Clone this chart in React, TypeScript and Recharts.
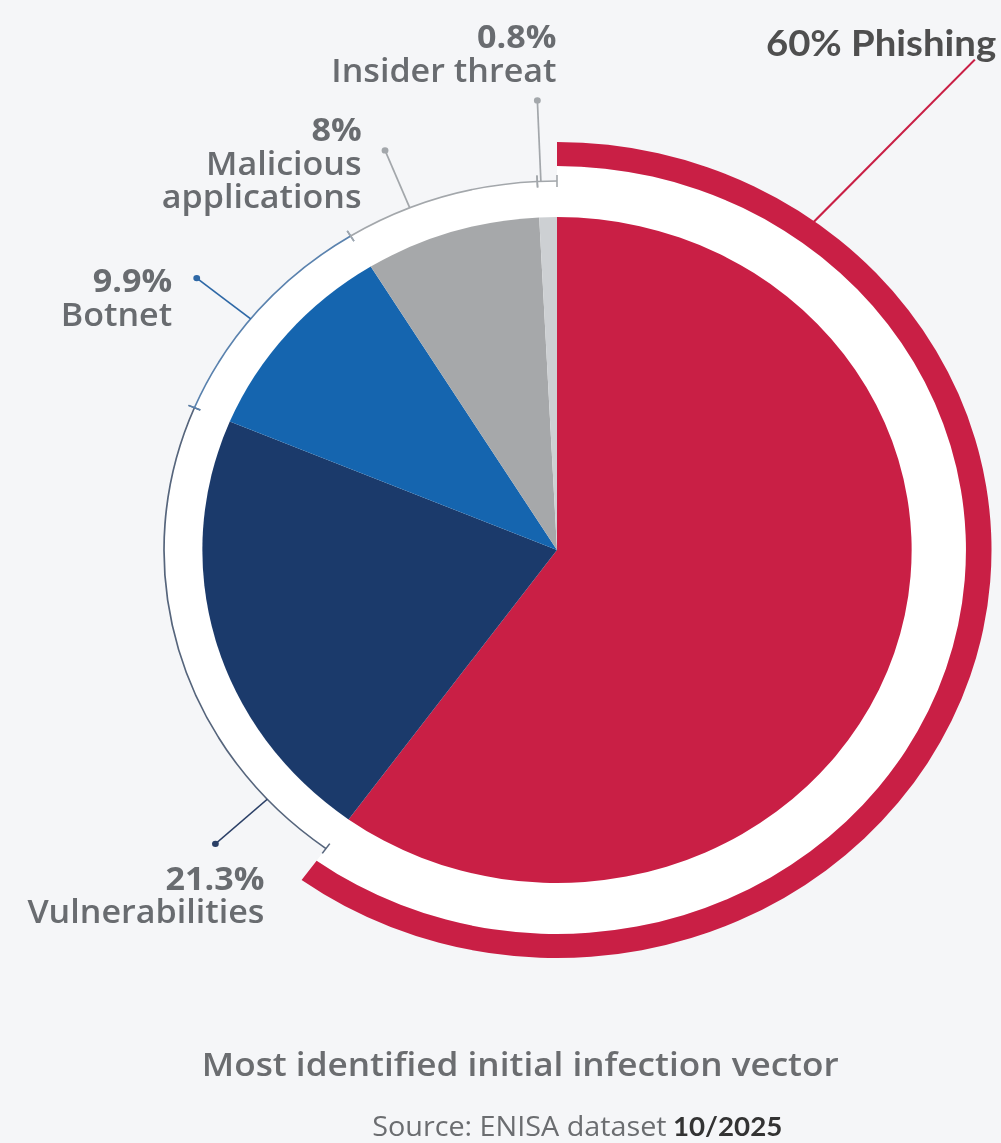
import { PieChart, Pie, Cell } from 'recharts';

// Initial infection vectors (share of incidents, %)
const categories = ['Phishing', 'Vulnerabilities', 'Botnet', 'Malicious applications', 'Insider threat'];
const shares = [60, 21.3, 9.9, 8, 0.8];
const shareLabels = ['60%', '21.3%', '9.9%', '8%', '0.8%'];
const nameLines = [['Phishing'], ['Vulnerabilities'], ['Botnet'], ['Malicious', 'applications'], ['Insider threat']];

const title = 'Most identified initial infection vector';
const source = 'Source: ENISA dataset';
const sourceDate = '10/2025';

const sliceColors = ['#C91F45', '#1B3A6B', '#1565AF', '#A6A8AA', '#CDD0D3'];
const ringColors = ['#C91F45', '#56657C', '#5A82AE', '#A3A7AB', '#A3A7AB'];
const leaderColors = ['#C91F45', '#2A3F66', '#2E68A6', '#A3A7AB', '#A3A7AB'];

const data = categories.map((name, i) => ({ name, value: shares[i] }));

// the source picture is a little wider than tall
const STRETCH = 1.065;
const CX = 557;
const CY = 550;
const R_PIE = 333;
const R_THIN = 369;
const R_BAND_IN = 384;
const R_BAND_OUT = 408;
const LINE = 33.5;
const TEXT = '#696C70';
const FONT = '"Open Sans", sans-serif';

// where each callout leaves its ring (fraction along the slice), how far it reaches, text offset from the dot
const callouts = [
  { t0: 0.168, t1: 0.179, r1: 628, dx: 20, dy: -4 },
  { t0: 0.15, t1: 0.15, r1: 435, dx: 46, dy: 46 },
  { t0: 0.452, t1: 0.452, r1: 434, dx: -23, dy: 14 },
  { t0: 0.336, t1: 0.336, r1: 431, dx: -22, dy: -9 },
  { t0: 0.184, t1: 0.184, r1: 450, dx: 18, dy: -52 },
];

const RAD = Math.PI / 180;
const polar = (cx: number, cy: number, r: number, a: number) => ({
  x: cx + r * Math.cos(-a * RAD),
  y: cy + r * Math.sin(-a * RAD),
});

const renderPhishing = (props: any) => {
  const { cx, cy, startAngle, endAngle, index } = props;
  if (index !== 0) return null;
  const c = callouts[0];
  const a0 = startAngle + c.t0 * (endAngle - startAngle);
  const a1 = startAngle + c.t1 * (endAngle - startAngle);
  const p0 = polar(cx, cy, R_BAND_OUT - 2, a0);
  const p1 = polar(cx, cy, c.r1, a1);
  return (
    <g>
      <line x1={p0.x} y1={p0.y} x2={p1.x} y2={p1.y} stroke={leaderColors[0]} strokeWidth={2} />
      <text
        x={p1.x + c.dx}
        y={p1.y + c.dy}
        textAnchor="end"
        fill="#4F4F4F"
        fontFamily="Lato, sans-serif"
        fontWeight={700}
        fontSize={36}
      >
        {`${shareLabels[0]} ${nameLines[0][0]}`}
      </text>
    </g>
  );
};

const renderThinRing = (props: any) => {
  const { cx, cy, startAngle, endAngle, index } = props;
  if (index === 0) return null;
  const c = callouts[index];
  const color = ringColors[index];
  const s = polar(cx, cy, R_THIN, startAngle);
  const e = polar(cx, cy, R_THIN, endAngle);
  const large = Math.abs(endAngle - startAngle) > 180 ? 1 : 0;
  const tick = (a: number) => {
    const i = polar(cx, cy, R_THIN - 6, a);
    const o = polar(cx, cy, R_THIN + 6, a);
    return <line x1={i.x} y1={i.y} x2={o.x} y2={o.y} stroke={color} strokeWidth={1.5} />;
  };
  const a = startAngle + c.t0 * (endAngle - startAngle);
  const p0 = polar(cx, cy, R_THIN, a);
  const p1 = polar(cx, cy, c.r1, startAngle + c.t1 * (endAngle - startAngle));
  const tx = p1.x + c.dx;
  const ty = p1.y + c.dy;
  return (
    <g>
      <path
        d={`M${s.x},${s.y} A${R_THIN},${R_THIN} 0 ${large} 1 ${e.x},${e.y}`}
        fill="none"
        stroke={color}
        strokeWidth={1.6}
      />
      {tick(startAngle)}
      {tick(endAngle)}
      <line x1={p0.x} y1={p0.y} x2={p1.x} y2={p1.y} stroke={leaderColors[index]} strokeWidth={1.6} />
      <circle cx={p1.x} cy={p1.y} r={3.2} fill={leaderColors[index]} />
      <text textAnchor="end" fill={TEXT} fontFamily={FONT} fontSize={32}>
        <tspan x={tx} y={ty} fontWeight={700}>
          {shareLabels[index]}
        </tspan>
        {nameLines[index].map((line, k) => (
          <tspan key={line} x={tx} y={ty + (k + 1) * LINE} fontWeight={600}>
            {line}
          </tspan>
        ))}
      </text>
    </g>
  );
};

const App = () => {
  return (
    <div
      style={{
        position: 'fixed',
        left: 0,
        top: 0,
        width: 1001,
        height: 1143,
        background: '#F5F6F8',
        overflow: 'hidden',
        fontFamily: FONT,
      }}
    >
      <div
        style={{
          position: 'absolute',
          left: 0,
          top: 0,
          width: 1001,
          height: 1143,
          transform: `scaleX(${STRETCH})`,
          transformOrigin: `${CX}px 0px`,
        }}
      >
        <PieChart width={1001} height={1000} margin={{ top: 0, right: 0, bottom: 0, left: 0 }}>
          {/* white backing disk */}
          <Pie
            data={[{ name: 'backing', value: 1 }]}
            dataKey="value"
            cx={CX}
            cy={CY}
            outerRadius={R_THIN}
            fill="#FFFFFF"
            stroke="none"
            isAnimationActive={false}
          />
          {/* white band between the phishing slice and its outer ring */}
          <Pie
            data={data}
            dataKey="value"
            cx={CX}
            cy={CY}
            innerRadius={R_PIE - 1}
            outerRadius={R_BAND_IN}
            startAngle={90}
            endAngle={-270}
            stroke="none"
            isAnimationActive={false}
          >
            {data.map((d, i) => (
              <Cell key={d.name} fill={i === 0 ? '#FFFFFF' : 'none'} />
            ))}
          </Pie>
          <Pie
            data={data}
            dataKey="value"
            nameKey="name"
            cx={CX}
            cy={CY}
            outerRadius={R_PIE}
            startAngle={90}
            endAngle={-270}
            stroke="none"
            isAnimationActive={false}
          >
            {data.map((d, i) => (
              <Cell key={d.name} fill={sliceColors[i]} />
            ))}
          </Pie>
          <Pie
            data={data}
            dataKey="value"
            cx={CX}
            cy={CY}
            innerRadius={R_BAND_IN}
            outerRadius={R_BAND_OUT}
            startAngle={90}
            endAngle={-270}
            stroke="none"
            label={renderPhishing}
            labelLine={false}
            isAnimationActive={false}
          >
            {data.map((d, i) => (
              <Cell key={d.name} fill={i === 0 ? sliceColors[0] : 'none'} />
            ))}
          </Pie>
          <Pie
            data={data}
            dataKey="value"
            cx={CX}
            cy={CY}
            innerRadius={R_THIN - 1}
            outerRadius={R_THIN + 1}
            startAngle={90}
            endAngle={-270}
            stroke="none"
            fill="none"
            label={renderThinRing}
            labelLine={false}
            isAnimationActive={false}
          />
        </PieChart>
        <div
          style={{
            position: 'absolute',
            left: 0,
            top: 1044,
            width: 1045,
            textAlign: 'center',
            fontSize: 33,
            lineHeight: '40px',
            fontWeight: 600,
            color: '#6B6D70',
          }}
        >
          {title}
        </div>
        <div
          style={{
            position: 'absolute',
            left: 0,
            top: 1110,
            width: 1152,
            textAlign: 'center',
            fontSize: 27,
            lineHeight: '32px',
            color: '#6B6D70',
            whiteSpace: 'nowrap',
          }}
        >
          {source}
          <span style={{ fontFamily: 'Lato, sans-serif', fontWeight: 700, fontSize: 26, color: '#333333', marginLeft: 6 }}>
            {sourceDate}
          </span>
        </div>
      </div>
    </div>
  );
};

export default App;
